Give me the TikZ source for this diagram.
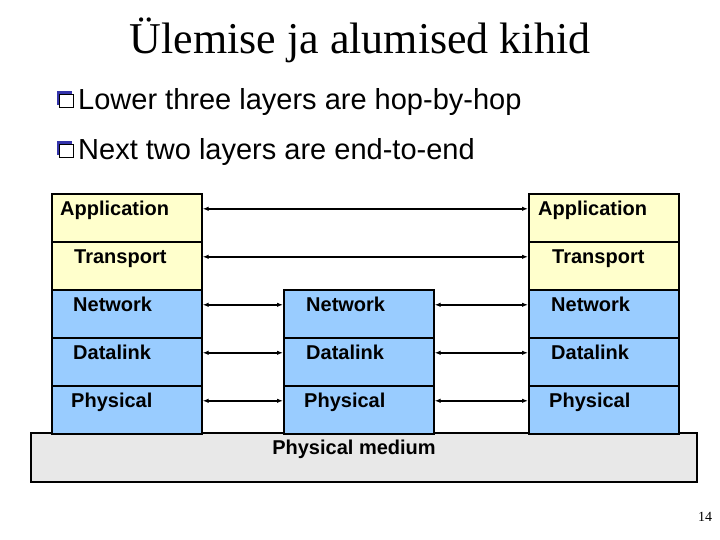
\documentclass[tikz,border=0pt]{standalone}
\usepackage{fontspec}
\setmainfont{Liberation Sans}
\newfontfamily\titlefont{Liberation Serif}
\usetikzlibrary{arrows.meta}
\definecolor{appyel}{HTML}{FFFFCC}
\definecolor{netblue}{HTML}{99CCFF}
\definecolor{medgray}{HTML}{E8E8E8}
\definecolor{bulblue}{HTML}{3333AA}
\tikzset{
  cell/.style={draw=black, line width=1.6pt, rectangle, anchor=north west,
    minimum width=150pt, minimum height=48pt, inner sep=0pt},
  upper/.style={cell, fill=appyel},
  lower/.style={cell, fill=netblue},
  lbl/.style={anchor=base west, inner sep=0pt, font=\fontsize{20}{24}\selectfont\bfseries},
  link/.style={line width=1.7pt, {Latex[length=6pt,width=4.5pt]}-{Latex[length=6pt,width=4.5pt]}},
  bul/.style={anchor=base west, inner sep=0pt, font=\fontsize{29}{34}\selectfont},
}
\begin{document}
\begin{tikzpicture}[x=1pt,y=-1pt]
\useasboundingbox (0,0) rectangle (720,540);
% title
\node[anchor=base, inner sep=0pt, font=\titlefont\fontsize{44}{50}\selectfont] (title) at (360,54) {Ülemise ja alumised kihid};
% bullets
\foreach \n/\yy in {b1/99, b2/149}{
  \fill[bulblue] (56.5,\yy-7.5) rectangle (71.5,\yy+6.5);
  \filldraw[fill=white, draw=black, line width=0.7pt] (59.5,\yy-4.5) rectangle (73,\yy+8);
}
\node[bul] (t1) at (78,110) {Lower three layers are hop-by-hop};
\node[bul] (t2) at (78,160) {Next two layers are end-to-end};
% physical medium
\node[draw=black, line width=1.6pt, fill=medgray, rectangle, anchor=north west,
  minimum width=666pt, minimum height=49pt, inner sep=0pt] (med) at (30,432) {};
\node[anchor=base, inner sep=0pt, font=\fontsize{20}{24}\selectfont\bfseries] (medt) at (354,454) {Physical medium};
% left stack
\node[upper] (LA) at (51,193) {};
\node[upper] (LT) at (51,241) {};
\node[lower] (LN) at (51,289) {};
\node[lower] (LD) at (51,337) {};
\node[lower] (LP) at (51,385) {};
% middle stack
\node[lower] (MN) at (283,289) {};
\node[lower] (MD) at (283,337) {};
\node[lower] (MP) at (283,385) {};
% right stack
\node[upper] (RA) at (528,193) {};
\node[upper] (RT) at (528,241) {};
\node[lower] (RN) at (528,289) {};
\node[lower] (RD) at (528,337) {};
\node[lower] (RP) at (528,385) {};
% labels
\node[lbl] (lLA) at (60,215) {Application};
\node[lbl] (lLT) at (74,263) {Transport};
\node[lbl] (lLN) at (73,311) {Network};
\node[lbl] (lLD) at (73,359) {Datalink};
\node[lbl] (lLP) at (71,407) {Physical};
\node[lbl] (lMN) at (306,311) {Network};
\node[lbl] (lMD) at (306,359) {Datalink};
\node[lbl] (lMP) at (304,407) {Physical};
\node[lbl] (lRA) at (538,215) {Application};
\node[lbl] (lRT) at (552,263) {Transport};
\node[lbl] (lRN) at (551,311) {Network};
\node[lbl] (lRD) at (551,359) {Datalink};
\node[lbl] (lRP) at (549,407) {Physical};
% connectors
\draw[link] ([yshift=9pt]LA.east) -- ([yshift=9pt]RA.west);
\draw[link] ([yshift=9pt]LT.east) -- ([yshift=9pt]RT.west);
\foreach \r in {N,D,P}{
  \draw[link] ([yshift=9pt]L\r.east) -- ([yshift=9pt]M\r.west);
  \draw[link] ([yshift=9pt]M\r.east) -- ([yshift=9pt]R\r.west);
}
% page number
\node[anchor=base, inner sep=0pt, font=\titlefont\fontsize{14}{16}\selectfont] (pg) at (705,521) {14};
\end{tikzpicture}
\end{document}
